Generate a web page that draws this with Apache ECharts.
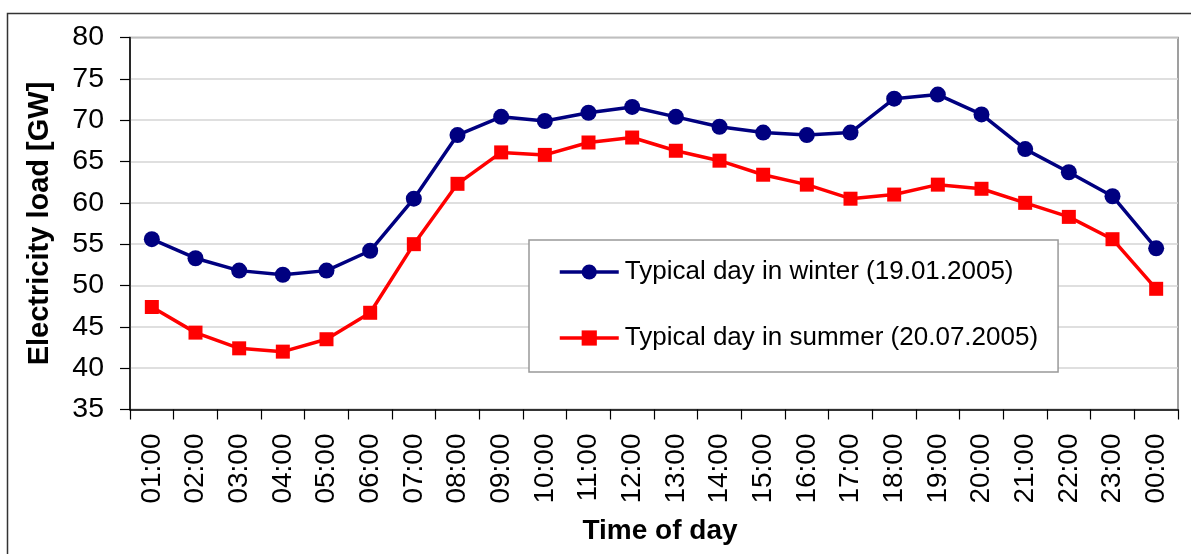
<!DOCTYPE html>
<html>
<head>
<meta charset="utf-8">
<script src="https://cdn.jsdelivr.net/npm/echarts@6/dist/echarts.min.js"></script>
<style>
  html, body { margin: 0; padding: 0; background: #ffffff; }
  #chart { width: 1191px; height: 554px; }
</style>
</head>
<body>
<div id="chart"></div>
<script>
const hours = ['01:00','02:00','03:00','04:00','05:00','06:00','07:00','08:00','09:00','10:00','11:00','12:00',
               '13:00','14:00','15:00','16:00','17:00','18:00','19:00','20:00','21:00','22:00','23:00','00:00'];
const winter = [55.6, 53.3, 51.8, 51.3, 51.8, 54.2, 60.5, 68.2, 70.4, 69.9, 70.9, 71.6,
                70.4, 69.2, 68.5, 68.2, 68.5, 72.6, 73.1, 70.7, 66.5, 63.7, 60.8, 54.5];
const summer = [47.4, 44.3, 42.4, 42.0, 43.5, 46.7, 55.0, 62.3, 66.1, 65.8, 67.3, 67.9,
                66.3, 65.1, 63.4, 62.2, 60.5, 61.0, 62.2, 61.7, 60.0, 58.3, 55.6, 49.6];
const winterName = 'Typical day in winter (19.01.2005)';
const summerName = 'Typical day in summer (20.07.2005)';
const xTitle = 'Time of day';
const yTitle = 'Electricity load [GW]';

const FONT = '"Liberation Sans", Arial, sans-serif';
const chart = echarts.init(document.getElementById('chart'), null, { renderer: 'canvas' });

chart.setOption({
  animation: false,
  backgroundColor: '#ffffff',
  textStyle: { fontFamily: FONT, color: '#000' },
  grid: {
    left: 130, right: 13, top: 37.5, bottom: 144.5,
    show: true, borderColor: '#808080', borderWidth: 1.5, backgroundColor: 'transparent'
  },
  graphic: [{
    type: 'polyline',
    silent: true,
    shape: { points: [[7.5, 560], [7.5, 13.5], [1200, 13.5]] },
    style: { stroke: '#333', lineWidth: 1.5, fill: null }
  }],
  legend: {
    left: 529, top: 240,
    orient: 'vertical',
    padding: [19, 20, 21, 29],
    itemGap: 40,
    itemWidth: 59, itemHeight: 19,
    borderColor: '#999', borderWidth: 1.5,
    backgroundColor: '#fff',
    lineStyle: { width: 3.5 },
    textStyle: { fontFamily: FONT, fontSize: 26, color: '#000', padding: [0, 0, 0, 1] },
    data: [winterName, summerName]
  },
  xAxis: {
    type: 'category',
    data: hours,
    boundaryGap: true,
    name: xTitle,
    nameLocation: 'middle',
    nameGap: 108,
    nameTextStyle: { fontFamily: FONT, fontSize: 28, fontWeight: 'bold', color: '#000', padding: [0, 0, 0, 12] },
    axisLine: { lineStyle: { color: '#000', width: 1.5 } },
    axisTick: { show: true, length: 10, lineStyle: { color: '#000', width: 1.2 } },
    axisLabel: { rotate: 90, fontSize: 28, color: '#000', fontFamily: FONT, margin: 24, interval: 0 },
    splitLine: { show: false }
  },
  yAxis: {
    type: 'value',
    min: 35, max: 80, interval: 5,
    name: yTitle,
    nameLocation: 'middle',
    nameGap: 76,
    nameTextStyle: { fontFamily: FONT, fontSize: 29, fontWeight: 'bold', color: '#000' },
    axisLine: { show: true, lineStyle: { color: '#000', width: 1.5 } },
    axisTick: { show: true, length: 10, lineStyle: { color: '#000', width: 1.2 } },
    axisLabel: { fontSize: 28.5, color: '#000', fontFamily: FONT, margin: 26 },
    splitLine: { show: true, lineStyle: { color: '#d4d4d4', width: 1.5 } }
  },
  series: [
    {
      name: winterName,
      type: 'line',
      data: winter,
      symbol: 'circle',
      symbolSize: 16,
      itemStyle: { color: '#000080' },
      lineStyle: { color: '#000080', width: 3.5 }
    },
    {
      name: summerName,
      type: 'line',
      data: summer,
      symbol: 'rect',
      symbolSize: 14,
      itemStyle: { color: '#ff0000' },
      lineStyle: { color: '#ff0000', width: 3.5 }
    }
  ]
});
</script>
</body>
</html>
